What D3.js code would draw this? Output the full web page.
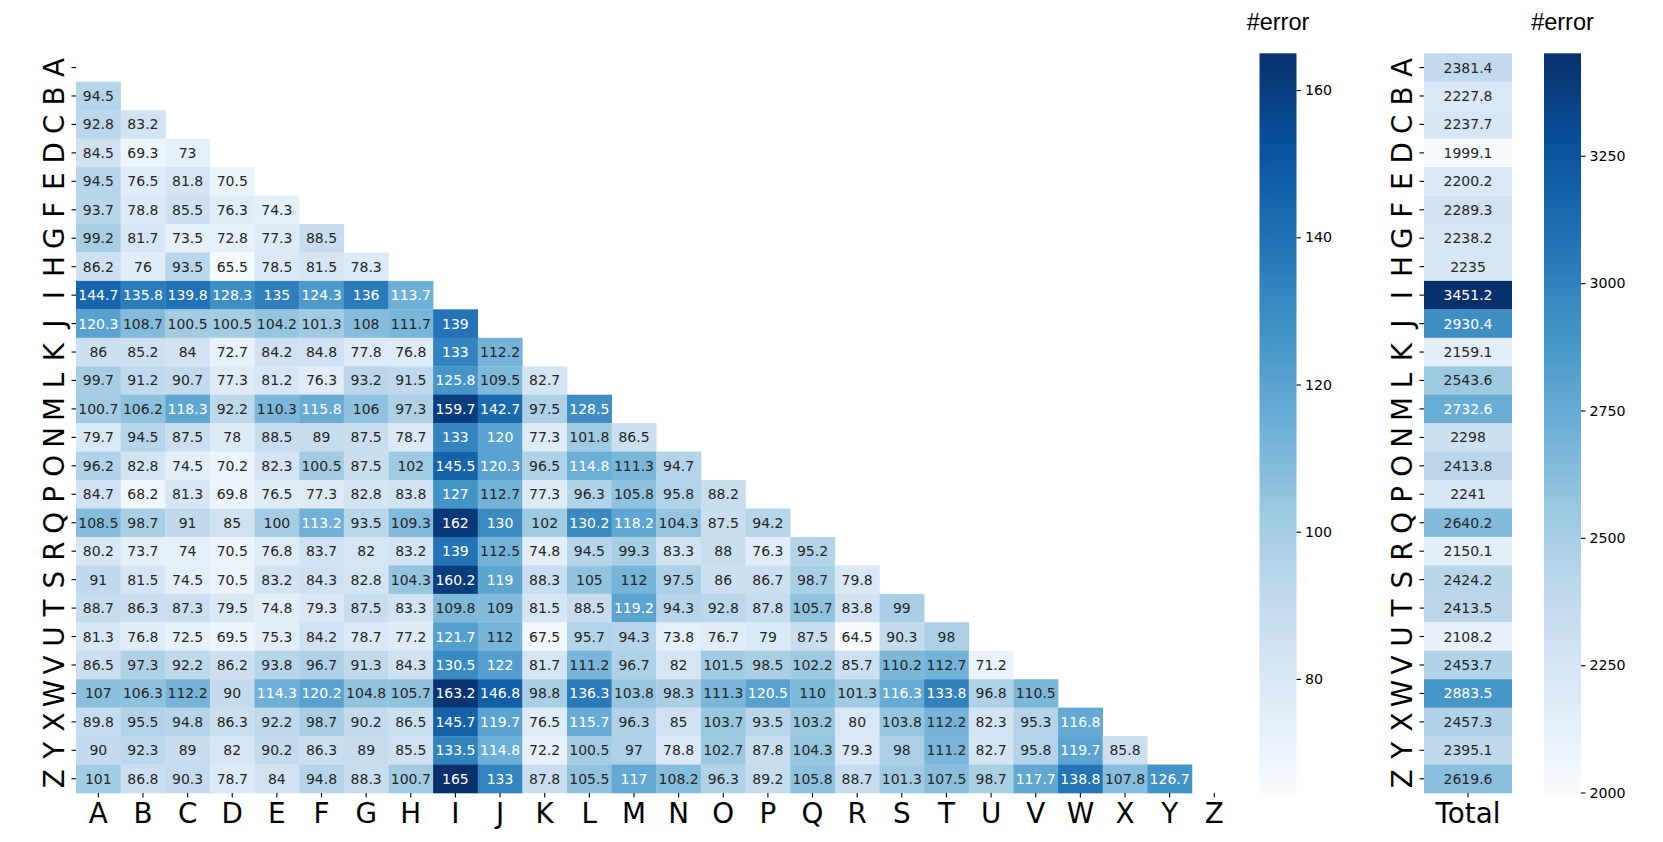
<!DOCTYPE html>
<html><head><meta charset="utf-8">
<script src="https://cdn.jsdelivr.net/npm/d3@7"></script>
<style>body{margin:0;background:#fff}svg{display:block}</style>
</head><body>
<svg id="chart" width="1663" height="842"></svg>
<script>
// ---------- DATA ----------
const letters = "ABCDEFGHIJKLMNOPQRSTUVWXYZ".split("");
// lower triangle: row letters[i+1], columns A .. letters[i]
const pairErrors = [
  [94.5],
  [92.8, 83.2],
  [84.5, 69.3, 73],
  [94.5, 76.5, 81.8, 70.5],
  [93.7, 78.8, 85.5, 76.3, 74.3],
  [99.2, 81.7, 73.5, 72.8, 77.3, 88.5],
  [86.2, 76, 93.5, 65.5, 78.5, 81.5, 78.3],
  [144.7, 135.8, 139.8, 128.3, 135, 124.3, 136, 113.7],
  [120.3, 108.7, 100.5, 100.5, 104.2, 101.3, 108, 111.7, 139],
  [86, 85.2, 84, 72.7, 84.2, 84.8, 77.8, 76.8, 133, 112.2],
  [99.7, 91.2, 90.7, 77.3, 81.2, 76.3, 93.2, 91.5, 125.8, 109.5, 82.7],
  [100.7, 106.2, 118.3, 92.2, 110.3, 115.8, 106, 97.3, 159.7, 142.7, 97.5, 128.5],
  [79.7, 94.5, 87.5, 78, 88.5, 89, 87.5, 78.7, 133, 120, 77.3, 101.8, 86.5],
  [96.2, 82.8, 74.5, 70.2, 82.3, 100.5, 87.5, 102, 145.5, 120.3, 96.5, 114.8, 111.3, 94.7],
  [84.7, 68.2, 81.3, 69.8, 76.5, 77.3, 82.8, 83.8, 127, 112.7, 77.3, 96.3, 105.8, 95.8, 88.2],
  [108.5, 98.7, 91, 85, 100, 113.2, 93.5, 109.3, 162, 130, 102, 130.2, 118.2, 104.3, 87.5, 94.2],
  [80.2, 73.7, 74, 70.5, 76.8, 83.7, 82, 83.2, 139, 112.5, 74.8, 94.5, 99.3, 83.3, 88, 76.3, 95.2],
  [91, 81.5, 74.5, 70.5, 83.2, 84.3, 82.8, 104.3, 160.2, 119, 88.3, 105, 112, 97.5, 86, 86.7, 98.7, 79.8],
  [88.7, 86.3, 87.3, 79.5, 74.8, 79.3, 87.5, 83.3, 109.8, 109, 81.5, 88.5, 119.2, 94.3, 92.8, 87.8, 105.7, 83.8, 99],
  [81.3, 76.8, 72.5, 69.5, 75.3, 84.2, 78.7, 77.2, 121.7, 112, 67.5, 95.7, 94.3, 73.8, 76.7, 79, 87.5, 64.5, 90.3, 98],
  [86.5, 97.3, 92.2, 86.2, 93.8, 96.7, 91.3, 84.3, 130.5, 122, 81.7, 111.2, 96.7, 82, 101.5, 98.5, 102.2, 85.7, 110.2, 112.7, 71.2],
  [107, 106.3, 112.2, 90, 114.3, 120.2, 104.8, 105.7, 163.2, 146.8, 98.8, 136.3, 103.8, 98.3, 111.3, 120.5, 110, 101.3, 116.3, 133.8, 96.8, 110.5],
  [89.8, 95.5, 94.8, 86.3, 92.2, 98.7, 90.2, 86.5, 145.7, 119.7, 76.5, 115.7, 96.3, 85, 103.7, 93.5, 103.2, 80, 103.8, 112.2, 82.3, 95.3, 116.8],
  [90, 92.3, 89, 82, 90.2, 86.3, 89, 85.5, 133.5, 114.8, 72.2, 100.5, 97, 78.8, 102.7, 87.8, 104.3, 79.3, 98, 111.2, 82.7, 95.8, 119.7, 85.8],
  [101, 86.8, 90.3, 78.7, 84, 94.8, 88.3, 100.7, 165, 133, 87.8, 105.5, 117, 108.2, 96.3, 89.2, 105.8, 88.7, 101.3, 107.5, 98.7, 117.7, 138.8, 107.8, 126.7]
];
const totals = [2381.4, 2227.8, 2237.7, 1999.1, 2200.2, 2289.3, 2238.2, 2235, 3451.2, 2930.4,
  2159.1, 2543.6, 2732.6, 2298, 2413.8, 2241, 2640.2, 2150.1, 2424.2, 2413.5,
  2108.2, 2453.7, 2883.5, 2457.3, 2395.1, 2619.6];
const pairTicks = [80, 100, 120, 140, 160];
const totalTicks = [2000, 2250, 2500, 2750, 3000, 3250];
const totalLabel = ["Total"];
const cbarTitle = "#error";

// ---------- SETUP ----------
const svg = d3.select("#chart");
const FONT = "DejaVu Sans, sans-serif";
const TOP = 53.3, BOTTOM = 793;
const bluesStops = ['#f7fbff','#deebf7','#c6dbef','#9ecae1','#6baed6','#4292c6','#2171b5','#08519c','#08306b'];
const blues = d3.scaleLinear().domain(d3.range(9).map(i => i / 8)).range(bluesStops).interpolate(d3.interpolateRgb).clamp(true);

function lum(c) {
  const r = d3.rgb(c);
  const f = x => { x /= 255; return x <= 0.03928 ? x / 12.92 : Math.pow((x + 0.055) / 1.055, 2.4); };
  return 0.2126 * f(r.r) + 0.7152 * f(r.g) + 0.0722 * f(r.b);
}

const cells = [];
pairErrors.forEach((row, i) => row.forEach((v, j) => cells.push({ r: letters[i + 1], c: letters[j], v })));
const pairMin = d3.min(cells, d => d.v), pairMax = d3.max(cells, d => d.v);
const pairNorm = d3.scaleLinear().domain([pairMin, pairMax]).range([0, 1]);
const pairColor = v => blues(pairNorm(v));
const totMin = d3.min(totals), totMax = d3.max(totals);
const totNorm = d3.scaleLinear().domain([totMin, totMax]).range([0, 1]);
const totColor = v => blues(totNorm(v));

// ---------- MAIN HEATMAP ----------
const x = d3.scaleBand().domain(letters).range([76, 1236.6]);
const y = d3.scaleBand().domain(letters).range([TOP, BOTTOM]);

const gMain = svg.append("g");
gMain.selectAll("rect").data(cells).join("rect")
  .attr("x", d => x(d.c)).attr("y", d => y(d.r))
  .attr("width", x.bandwidth() + 0.3).attr("height", y.bandwidth() + 0.3)
  .attr("fill", d => pairColor(d.v));
gMain.selectAll("text").data(cells).join("text")
  .attr("x", d => x(d.c) + x.bandwidth() / 2).attr("y", d => y(d.r) + y.bandwidth() / 2)
  .attr("text-anchor", "middle").attr("dominant-baseline", "central")
  .attr("font-family", FONT).attr("font-size", 14)
  .attr("fill", d => lum(pairColor(d.v)) > 0.408 ? "#262626" : "#ffffff")
  .text(d => String(d.v));

function styleAxis(g, size) {
  g.select(".domain").remove();
  g.selectAll(".tick line").attr("stroke", "#000").attr("stroke-width", 1.1);
  g.selectAll(".tick text").attr("font-family", FONT).attr("font-size", size).attr("fill", "#000");
}

// x axis
const xAx = svg.append("g").attr("transform", `translate(0,${BOTTOM})`)
  .call(d3.axisBottom(x).tickSize(4.5).tickPadding(5));
styleAxis(xAx, 27.78);
xAx.selectAll(".tick text").attr("dy", null).attr("y", 30.3).attr("dominant-baseline", "auto");

// y axis (rotated labels)
function yAxis(left) {
  const g = svg.append("g").attr("transform", `translate(${left},0)`)
    .call(d3.axisLeft(y).tickSize(4.5).tickPadding(5));
  styleAxis(g, 27.78);
  g.selectAll(".tick text")
    .attr("x", null).attr("dy", null).attr("text-anchor", "middle")
    .attr("transform", "translate(-11.6,0) rotate(-90)")
    .attr("dominant-baseline", "auto");
  return g;
}
yAxis(76);

// ---------- COLORBAR helper ----------
let gradId = 0;
function colorbar(x0, w, lo, hi, ticks) {
  const id = "grad" + (gradId++);
  const grad = svg.append("defs").append("linearGradient").attr("id", id)
    .attr("x1", 0).attr("y1", 1).attr("x2", 0).attr("y2", 0);
  d3.range(0, 1.0001, 1 / 64).forEach(t => {
    grad.append("stop").attr("offset", t).attr("stop-color", blues(t));
  });
  svg.append("rect").attr("x", x0).attr("y", TOP).attr("width", w).attr("height", BOTTOM - TOP)
    .attr("fill", `url(#${id})`);
  const s = d3.scaleLinear().domain([lo, hi]).range([BOTTOM, TOP]);
  const g = svg.append("g").attr("transform", `translate(${x0 + w},0)`)
    .call(d3.axisRight(s).tickValues(ticks).tickFormat(d3.format("d")).tickSize(4.5).tickPadding(4));
  styleAxis(g, 14.2);
  svg.append("text").attr("x", x0 + w / 2).attr("y", 30)
    .attr("text-anchor", "middle").attr("font-family", "Liberation Sans, Arial, sans-serif")
    .attr("font-size", 23.5).attr("fill", "#000").text(cbarTitle);
}
colorbar(1259.5, 37, pairMin, pairMax, pairTicks);

// ---------- TOTAL COLUMN ----------
const xt = d3.scaleBand().domain(totalLabel).range([1424, 1512]);
const totData = totals.map((v, i) => ({ r: letters[i], v }));
const gTot = svg.append("g");
gTot.selectAll("rect").data(totData).join("rect")
  .attr("x", xt("Total")).attr("y", d => y(d.r))
  .attr("width", xt.bandwidth()).attr("height", y.bandwidth() + 0.3)
  .attr("fill", d => totColor(d.v));
gTot.selectAll("text").data(totData).join("text")
  .attr("x", xt("Total") + xt.bandwidth() / 2).attr("y", d => y(d.r) + y.bandwidth() / 2)
  .attr("text-anchor", "middle").attr("dominant-baseline", "central")
  .attr("font-family", FONT).attr("font-size", 14)
  .attr("fill", d => lum(totColor(d.v)) > 0.408 ? "#262626" : "#ffffff")
  .text(d => String(d.v));
const xtAx = svg.append("g").attr("transform", `translate(0,${BOTTOM})`)
  .call(d3.axisBottom(xt).tickSize(4.5).tickPadding(5));
styleAxis(xtAx, 27.78);
xtAx.selectAll(".tick text").attr("dy", null).attr("y", 30.3).attr("dominant-baseline", "auto");
yAxis(1424);

colorbar(1544, 37, totMin, totMax, totalTicks);
</script>
</body></html>
